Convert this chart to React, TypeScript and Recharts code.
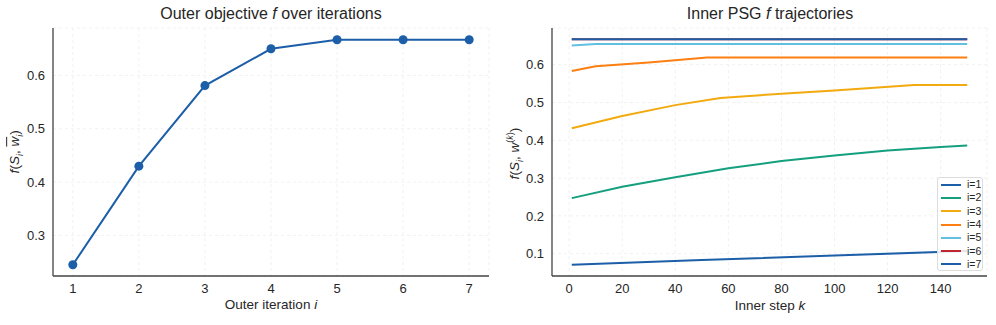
import { LineChart, Line, CartesianGrid, XAxis, YAxis } from 'recharts'

const outerIter = [1, 2, 3, 4, 5, 6, 7]
const outerF = [0.245, 0.43, 0.581, 0.65, 0.667, 0.667, 0.667]

const innerLabels = ['i=1', 'i=2', 'i=3', 'i=4', 'i=5', 'i=6', 'i=7']
const innerColors = ['#1c5ea8', '#14a07e', '#f2aa0e', '#fd7f12', '#62bfe0', '#c0262e', '#1c5ea8']

const innerSteps = [
  [1, 50, 100, 150],
  [1, 20, 40, 60, 80, 100, 120, 140, 150],
  [1, 20, 40, 57, 80, 100, 130, 150],
  [1, 10, 30, 52, 150],
  [1, 10, 150],
  [1, 150],
  [1, 150],
]
const innerValues = [
  [0.071, 0.083, 0.095, 0.107],
  [0.247, 0.277, 0.302, 0.326, 0.345, 0.36, 0.373, 0.382, 0.386],
  [0.432, 0.464, 0.493, 0.512, 0.523, 0.532, 0.546, 0.546],
  [0.583, 0.596, 0.606, 0.619, 0.619],
  [0.651, 0.655, 0.655],
  [0.667, 0.667],
  [0.667, 0.667],
]

const outerYTicks = [0.3, 0.4, 0.5, 0.6]
const innerXTicks = [0, 20, 40, 60, 80, 100, 120, 140]
const innerYTicks = [0.1, 0.2, 0.3, 0.4, 0.5, 0.6]

const font = '"Liberation Sans", Arial, sans-serif'
const textColor = '#262626'
const tickStyle = { fill: textColor, fontSize: 13, fontFamily: font }

const outerData = outerIter.map((it, idx) => ({ it, f: outerF[idx] }))
const innerSeries = innerLabels.map((name, s) => ({
  name,
  color: innerColors[s],
  points: innerSteps[s].map((k, j) => ({ k, f: innerValues[s][j] })),
}))

const titleStyle = (left: number, width: number): React.CSSProperties => ({
  position: 'absolute',
  left,
  width,
  top: 5,
  textAlign: 'center',
  fontSize: 16,
  color: textColor,
  fontFamily: font,
})

const xLabelStyle = (left: number, width: number, top: number): React.CSSProperties => ({
  position: 'absolute',
  left,
  width,
  top,
  textAlign: 'center',
  fontSize: 13.5,
  color: textColor,
  fontFamily: font,
})

const yLabelStyle = (cx: number, cy: number): React.CSSProperties => ({
  position: 'absolute',
  left: cx - 60,
  top: cy - 9,
  width: 120,
  textAlign: 'center',
  fontSize: 13.5,
  color: textColor,
  fontFamily: font,
  transform: 'rotate(-90deg)',
  whiteSpace: 'nowrap',
})

const App = () => {
  return (
    <div style={{ position: 'absolute', left: 0, top: 0, width: 996, height: 325, background: '#fff' }}>
      <div style={titleStyle(53, 436)}>
        Outer objective <i>f</i> over iterations
      </div>
      <div style={titleStyle(552, 436)}>
        Inner PSG <i>f</i> trajectories
      </div>

      <div style={{ position: 'absolute', left: 0, top: 0 }}>
        <LineChart width={500} height={325} data={outerData} margin={{ top: 28, right: 11, bottom: 0, left: 0 }}>
          <CartesianGrid strokeDasharray="3 3" stroke="#f1f1f1" />
          <XAxis
            dataKey="it"
            type="number"
            domain={[0.7, 7.3]}
            ticks={outerIter}
            height={49}
            tickLine={false}
            stroke="#444"
            strokeWidth={1.3}
            tick={tickStyle}
          />
          <YAxis
            type="number"
            domain={[0.224, 0.689]}
            ticks={outerYTicks}
            width={53}
            tickLine={false}
            stroke="#444"
            strokeWidth={1.3}
            tick={tickStyle}
            tickFormatter={(v: number) => v.toFixed(1)}
          />
          <Line
            dataKey="f"
            stroke="#1c5ea8"
            strokeWidth={2}
            dot={{ r: 4.5, fill: '#1c5ea8', stroke: '#1c5ea8', strokeWidth: 0 }}
            isAnimationActive={false}
          />
        </LineChart>
      </div>

      <div style={{ position: 'absolute', left: 500, top: 0 }}>
        <LineChart width={496} height={325} margin={{ top: 28, right: 9, bottom: 0, left: 0 }}>
          <CartesianGrid strokeDasharray="3 3" stroke="#f1f1f1" />
          <XAxis
            dataKey="k"
            type="number"
            domain={[-6.45, 157.45]}
            ticks={innerXTicks}
            allowDuplicatedCategory={false}
            height={49}
            tickLine={false}
            stroke="#444"
            strokeWidth={1.3}
            tick={tickStyle}
          />
          <YAxis
            type="number"
            domain={[0.041, 0.697]}
            ticks={innerYTicks}
            width={52}
            tickLine={false}
            stroke="#444"
            strokeWidth={1.3}
            tick={tickStyle}
            tickFormatter={(v: number) => v.toFixed(1)}
          />
          {innerSeries.map((s) => (
            <Line
              key={s.name}
              data={s.points}
              dataKey="f"
              name={s.name}
              stroke={s.color}
              strokeWidth={2}
              dot={false}
              isAnimationActive={false}
            />
          ))}
        </LineChart>
      </div>

      <div style={xLabelStyle(53, 436, 297)}>
        Outer iteration <i>i</i>
      </div>
      <div style={xLabelStyle(552, 436, 298)}>
        Inner step <i>k</i>
      </div>

      <div style={yLabelStyle(16, 152)}>
        <i>f</i>(<i>S</i>
        <sub style={{ fontSize: 9 }}>
          <i>i</i>
        </sub>
        , <i style={{ textDecoration: 'overline' }}>w</i>
        <sub style={{ fontSize: 9 }}>
          <i>i</i>
        </sub>
        )
      </div>
      <div style={yLabelStyle(515, 153)}>
        <i>f</i>(<i>S</i>
        <sub style={{ fontSize: 9 }}>
          <i>i</i>
        </sub>
        , <i>w</i>
        <sup style={{ fontSize: 9 }}>
          (<i>k</i>)
        </sup>
        )
      </div>

      <div
        style={{
          position: 'absolute',
          left: 937,
          top: 177,
          width: 46,
          height: 94,
          boxSizing: 'border-box',
          border: '1px solid #dddddd',
          borderRadius: 3,
          background: 'rgba(255,255,255,0.85)',
          paddingTop: 0,
        }}
      >
        {innerSeries.map((s) => (
          <div key={s.name} style={{ display: 'flex', alignItems: 'center', height: 13.3 }}>
            <div style={{ marginLeft: 3, width: 20, height: 2, background: s.color }} />
            <span style={{ marginLeft: 6, fontSize: 10.5, color: textColor, fontFamily: font, lineHeight: '13px' }}>
              {s.name}
            </span>
          </div>
        ))}
      </div>
    </div>
  )
}

export default App
